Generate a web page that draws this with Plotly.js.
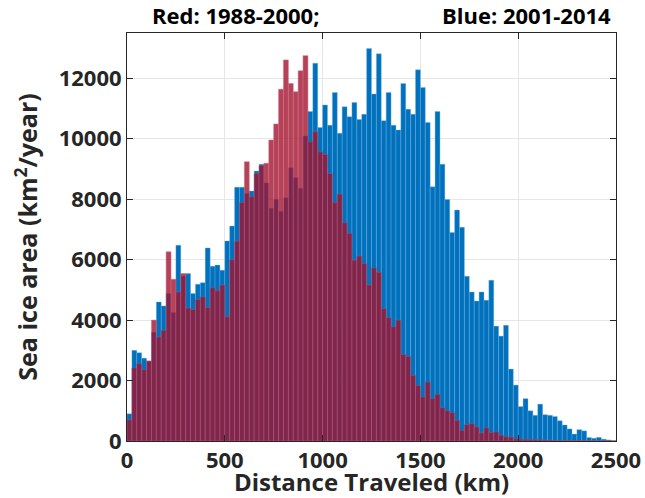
<!DOCTYPE html>
<html>
<head>
<meta charset="utf-8">
<script src="https://cdn.plot.ly/plotly-3.0.1.min.js"></script>
<style>html,body{margin:0;padding:0;background:#fff;}#chart{width:645px;height:498px;}</style>
</head>
<body>
<div id="chart"></div>
<script>
// Histogram bins: 25 km wide, 0 to 2500 km
var binWidth = 25;
var binCount = 100;

// Blue: 2001-2014 (km^2/year per bin)
var blueValues = [
  900, 3000, 2920, 2740, 2640, 3600, 4600, 4470, 4880, 4250,
  6480, 5450, 5540, 4880, 5190, 5240, 6390, 5780, 5820, 5650,
  6620, 7110, 8400, 8400, 8190, 8270, 8930, 9160, 8540, 7700,
  8000, 7600, 8050, 9040, 8710, 8360, 10090, 10900, 12500, 10370,
  11120, 10450, 11530, 10180, 11060, 10730, 11200, 10640, 10810, 12990,
  11480, 12810, 10600, 11530, 10450, 10290, 11830, 10980, 10810, 12280,
  11700, 10540, 8410, 10900, 9160, 7990, 6900, 7640, 7070, 5450,
  4930, 4630, 4930, 4660, 5320, 3800, 3470, 3830, 2380, 1850,
  1140, 1400, 1000, 850, 1220, 870, 850, 810, 670, 530,
  400, 230, 375, 335, 115, 90, 120, 60, 35, 10
];

// Red: 1988-2000 (km^2/year per bin)
var redValues = [
  700, 2420, 2560, 2360, 2650, 4000, 3440, 3660, 6260, 5350,
  4930, 5540, 4400, 4350, 4680, 4770, 4420, 5070, 4970, 5160,
  4110, 6000, 6610, 7890, 9240, 8080, 8850, 9110, 9190, 9960,
  10490, 11640, 12610, 11830, 11560, 12250, 12750, 9900, 10230, 9570,
  9480, 8850, 7890, 8170, 7220, 6870, 5980, 6120, 5870, 5160,
  5730, 5580, 4380, 4080, 3780, 4000, 2860, 2800, 2170, 1840,
  1460, 1950, 1400, 1545, 1100, 1000, 940, 685, 353, 540,
  575, 465, 265, 435, 280, 300, 190, 140, 130, 70,
  60, 55, 50, 45, 40, 30, 25, 20, 20, 15,
  15, 10, 10, 10, 10, 5, 5, 5, 5, 5
];

var xTicks = [0, 500, 1000, 1500, 2000, 2500];
var yTicks = [0, 2000, 4000, 6000, 8000, 10000, 12000];

var binCenters = [];
for (var i = 0; i < binCount; i++) binCenters.push(binWidth * i + binWidth / 2);

var fontFam = 'Open Sans, Lato, sans-serif';
var axisColor = '#262626';

var traces = [
  {
    type: 'bar', x: binCenters, y: blueValues, width: binWidth,
    marker: {color: '#0072BD', line: {color: 'rgba(120,175,225,0.9)', width: 0.4}},
    hoverinfo: 'x+y', showlegend: false
  },
  {
    type: 'bar', x: binCenters, y: redValues, width: binWidth,
    marker: {color: 'rgb(162,20,47)', line: {color: 'rgba(205,70,100,1)', width: 0.5}},
    opacity: 0.8, hoverinfo: 'x+y', showlegend: false
  }
];

var layout = {
  width: 645, height: 498,
  margin: {l: 127, r: 29, t: 33, b: 57, pad: 0},
  paper_bgcolor: '#fff', plot_bgcolor: '#fff',
  barmode: 'overlay', bargap: 0,
  xaxis: {
    range: [0, 2500], tickvals: xTicks, ticktext: xTicks.map(String),
    ticks: 'inside', ticklen: 6, tickcolor: axisColor, tickwidth: 1,
    showline: true, linecolor: axisColor, linewidth: 1, mirror: 'ticks',
    showgrid: true, gridcolor: '#e6e6e6', zeroline: false,
    tickfont: {family: fontFam, size: 22, color: axisColor, weight: 'bold'},
    title: {text: 'Distance Traveled (km)', standoff: 0,
            font: {family: fontFam, size: 24, color: axisColor, weight: 'bold'}}
  },
  yaxis: {
    range: [0, 13500], tickvals: yTicks, ticktext: yTicks.map(String),
    ticks: 'inside', ticklen: 6, tickcolor: axisColor, tickwidth: 1,
    showline: true, linecolor: axisColor, linewidth: 1, mirror: 'ticks',
    showgrid: true, gridcolor: '#e6e6e6', zeroline: false,
    tickfont: {family: fontFam, size: 22, color: axisColor, weight: 'bold'},
    title: {text: 'Sea ice area (km<sup>2</sup>/year)', standoff: 13,
            font: {family: fontFam, size: 25, color: axisColor, weight: 'bold'}}
  },
  annotations: [
    {text: 'Red: 1988-2000;', xref: 'paper', yref: 'paper', x: 0.048, y: 1.044,
     xanchor: 'left', yanchor: 'middle', showarrow: false,
     font: {family: fontFam, size: 22, color: '#000', weight: 'bold'}},
    {text: 'Blue: 2001-2014', xref: 'paper', yref: 'paper', x: 0.994, y: 1.044,
     xanchor: 'right', yanchor: 'middle', showarrow: false,
     font: {family: fontFam, size: 22, color: '#000', weight: 'bold'}}
  ]
};

Plotly.newPlot('chart', traces, layout, {displayModeBar: false, staticPlot: true});
</script>
</body>
</html>
